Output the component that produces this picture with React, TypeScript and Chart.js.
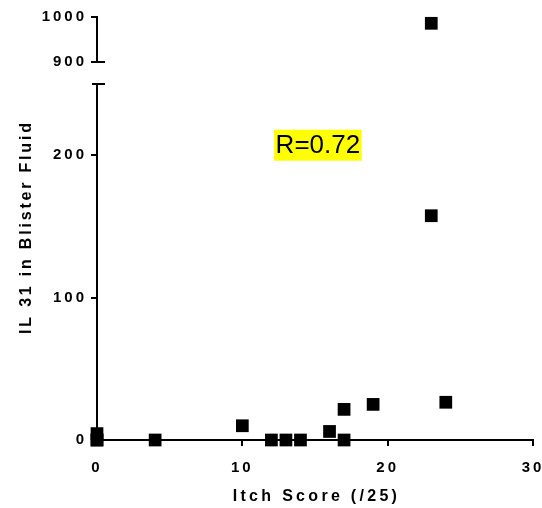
import { useEffect, useRef } from 'react';
import { Chart, registerables } from 'chart.js';

Chart.register(...registerables);

// ---- data ----
const LOW_X = [0, 0, 0, 4, 10, 12, 13, 14, 16, 17, 17, 19, 23, 24];
const LOW_Y = [0, 4.5, 0, 0, 10, 0, 0, 0, 6, 21.5, 0, 25, 157.5, 26.5];
const HIGH_X = [23];
const HIGH_Y = [986];

const X_TICKS = [0, 10, 20, 30];
const LOW_TICKS = [0, 100, 200];
const HIGH_TICKS = [900, 1000];
const X_RANGE = [0, 30];
const LOW_RANGE = [0, 250];
const HIGH_RANGE = [900, 1000];

const X_TITLE = 'Itch Score (/25)';
const Y_TITLE = 'IL 31 in Blister Fluid';
const R_TEXT = 'R=0.72';
const R_AT = { x: 15.2, y: 207 };

const FONT = "'Liberation Sans', Arial, sans-serif";

const deco = {
  id: 'deco',
  beforeDraw(chart: any) {
    chart.ctx.letterSpacing = '3px';
  },
  afterDraw(chart: any) {
    const ctx = chart.ctx;
    const { yHigh, yLow, x } = chart.scales;
    const area = chart.chartArea;
    const ax = area.left;
    ctx.save();
    // axis break marks
    ctx.strokeStyle = '#000';
    ctx.lineWidth = 2;
    ctx.beginPath();
    const yb = Math.round(yHigh.getPixelForValue(HIGH_RANGE[0]));
    ctx.moveTo(ax - 6, yb);
    ctx.lineTo(ax + 8, yb);
    const yt = Math.round(yLow.getPixelForValue(LOW_RANGE[1]));
    ctx.moveTo(ax - 5, yt);
    ctx.lineTo(ax + 8, yt);
    ctx.stroke();

    // axis titles
    ctx.fillStyle = '#000';
    ctx.font = `bold 16px ${FONT}`;
    ctx.letterSpacing = '3.3px';
    ctx.textAlign = 'center';
    ctx.textBaseline = 'middle';
    ctx.fillText(X_TITLE, (area.left + area.right) / 2 + 1.5, 497);
    ctx.save();
    ctx.translate(27, (area.top + area.bottom) / 2);
    ctx.rotate(-Math.PI / 2);
    ctx.letterSpacing = '2.8px';
    ctx.fillText(Y_TITLE, 1.4, 0);
    ctx.restore();

    // R annotation
    ctx.letterSpacing = '0px';
    ctx.font = `26px ${FONT}`;
    const cx = x.getPixelForValue(R_AT.x);
    const cy = yLow.getPixelForValue(R_AT.y);
    const w = ctx.measureText(R_TEXT).width + 3;
    ctx.fillStyle = '#ffff00';
    ctx.fillRect(cx - w / 2, cy - 15.5, w, 31);
    ctx.fillStyle = '#000';
    ctx.fillText(R_TEXT, cx, cy + 1);
    ctx.restore();
  },
};

const gridOpts = {
  display: true,
  drawOnChartArea: false,
  drawTicks: true,
  tickLength: 6,
  color: '#000',
  lineWidth: 2,
};
const borderOpts = { display: true, color: '#000', width: 2 };
const tickFont = { family: FONT, size: 15, weight: 'bold' as const };
const plain = (v: any) => String(v);

const fixY = (s: any) => {
  s.width = 97;
  s.paddingTop = 0;
  s.paddingBottom = 0;
};

export default function App() {
  const ref = useRef<HTMLCanvasElement>(null);
  useEffect(() => {
    document.body.style.margin = '0';
    const canvas = ref.current!;
    const chart = new Chart(canvas, {
      type: 'scatter',
      data: {
        datasets: [
          {
            data: LOW_X.map((v, i) => ({ x: v, y: LOW_Y[i] })),
            yAxisID: 'yLow',
            xAxisID: 'x',
            pointStyle: 'rect',
            pointRadius: 9,
            pointHoverRadius: 9,
            backgroundColor: '#000',
            borderWidth: 0,
            clip: false as any,
          },
          {
            data: HIGH_X.map((v, i) => ({ x: v, y: HIGH_Y[i] })),
            yAxisID: 'yHigh',
            xAxisID: 'x',
            pointStyle: 'rect',
            pointRadius: 9,
            pointHoverRadius: 9,
            backgroundColor: '#000',
            borderWidth: 0,
            clip: false as any,
          },
        ],
      },
      options: {
        animation: false,
        responsive: false,
        devicePixelRatio: 1,
        layout: { padding: { top: 17, right: 9, bottom: 0, left: 0 } },
        plugins: { legend: { display: false }, tooltip: { enabled: false } },
        events: [],
        scales: {
          x: {
            type: 'linear',
            position: 'bottom',
            min: X_RANGE[0],
            max: X_RANGE[1],
            afterBuildTicks: (s: any) => {
              s.ticks = X_TICKS.map((v) => ({ value: v }));
            },
            afterFit: (s: any) => {
              s.height = 68;
              s.paddingLeft = 0;
              s.paddingRight = 0;
            },
            grid: gridOpts,
            border: borderOpts,
            ticks: { color: '#000', font: tickFont, padding: 13, maxRotation: 0, callback: plain },
          },
          yHigh: {
            type: 'linear',
            position: 'left',
            stack: 'y',
            stackWeight: 45,
            weight: 3,
            min: HIGH_RANGE[0],
            max: HIGH_RANGE[1],
            afterBuildTicks: (s: any) => {
              s.ticks = HIGH_TICKS.map((v) => ({ value: v }));
            },
            afterFit: fixY,
            grid: gridOpts,
            border: borderOpts,
            ticks: { color: '#000', font: tickFont, padding: 4, callback: plain },
          },
          yGap: {
            type: 'linear',
            position: 'left',
            stack: 'y',
            stackWeight: 22,
            weight: 2,
            min: 0,
            max: 1,
            afterFit: fixY,
            grid: { display: false },
            border: { display: false },
            ticks: { display: false },
          },
          yLow: {
            type: 'linear',
            position: 'left',
            stack: 'y',
            stackWeight: 356,
            weight: 1,
            min: LOW_RANGE[0],
            max: LOW_RANGE[1],
            afterBuildTicks: (s: any) => {
              s.ticks = LOW_TICKS.map((v) => ({ value: v }));
            },
            afterFit: fixY,
            grid: gridOpts,
            border: borderOpts,
            ticks: { color: '#000', font: tickFont, padding: 4, callback: plain },
          },
        },
      } as any,
      plugins: [deco],
    });
    return () => chart.destroy();
  }, []);
  return (
    <div style={{ width: 542, height: 508 }}>
      <canvas ref={ref} width={542} height={508} style={{ display: 'block', width: 542, height: 508 }} />
    </div>
  );
}
